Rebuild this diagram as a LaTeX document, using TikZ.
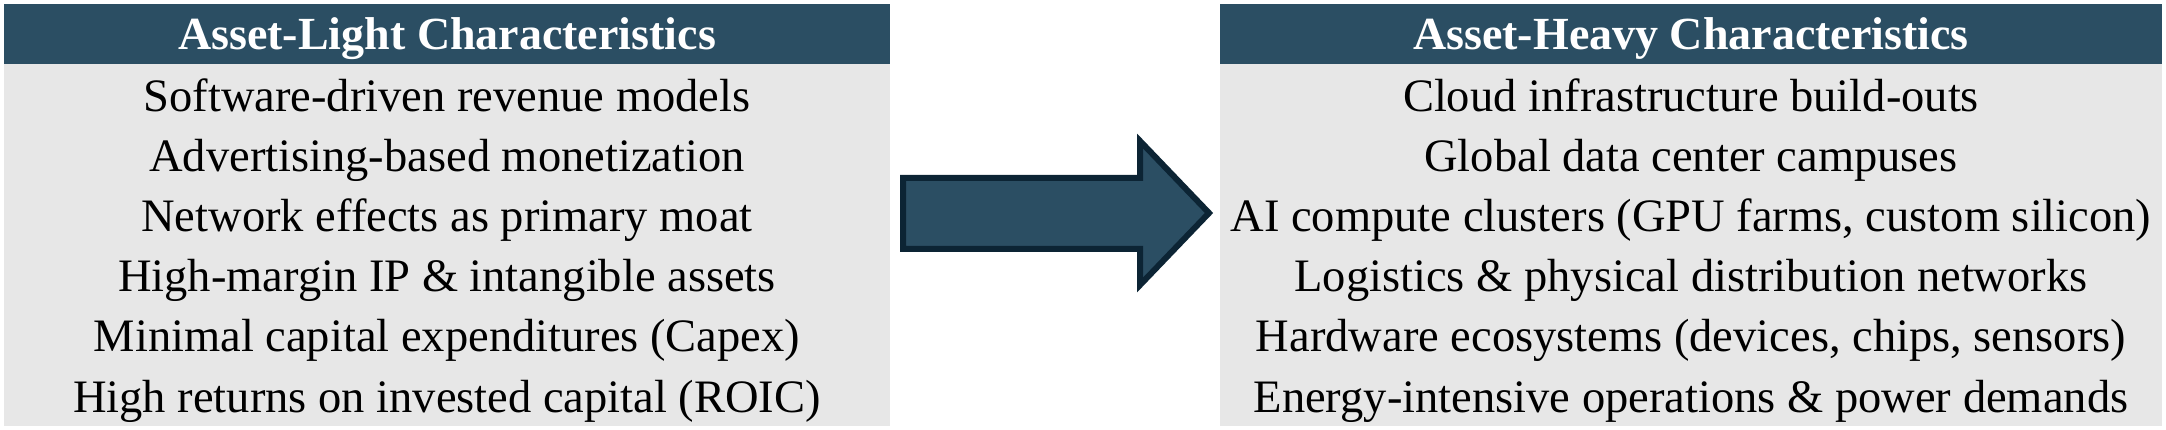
\documentclass[tikz,border=0pt]{standalone}
\usepackage{fontspec}
\setmainfont{Liberation Serif}
\definecolor{hdr}{RGB}{43,78,99}
\definecolor{bodygray}{RGB}{231,231,231}
\definecolor{arrowline}{RGB}{12,36,52}
\tikzset{
  hdrbox/.style={fill=hdr, draw=none},
  bodybox/.style={fill=bodygray, draw=none},
  hdrtext/.style={text=white, font=\fontsize{46}{54}\selectfont\bfseries, anchor=base, inner sep=0pt},
  itemtext/.style={text=black, font=\fontsize{46.5}{55}\selectfont, anchor=base, inner sep=0pt},
  bigarrow/.style={fill=hdr, draw=arrowline, line width=6pt, line join=miter}
}
\begin{document}
\begin{tikzpicture}[x=1pt,y=-1pt]
\useasboundingbox (0,0) rectangle (2166,430);
% left panel
\fill[bodybox] (4,64) rectangle (890,426);
\fill[hdrbox] (4,4) rectangle (890,64);
\node[hdrtext] (lh) at (447,50) {Asset-Light Characteristics};
\node[itemtext] (l1) at (447,112) {Software-driven revenue models};
\node[itemtext] (l2) at (447,172) {Advertising-based monetization};
\node[itemtext] (l3) at (447,232) {Network effects as primary moat};
\node[itemtext] (l4) at (447,292) {High-margin IP \& intangible assets};
\node[itemtext] (l5) at (447,352) {Minimal capital expenditures (Capex)};
\node[itemtext] (l6) at (447,412) {High returns on invested capital (ROIC)};
% right panel
\fill[bodybox] (1220,64) rectangle (2162,426);
\fill[hdrbox] (1220,4) rectangle (2162,64);
\node[hdrtext] (rh) at (1691,50) {Asset-Heavy Characteristics};
\node[itemtext] (r1) at (1691,112) {Cloud infrastructure build-outs};
\node[itemtext] (r2) at (1691,172) {Global data center campuses};
\node[itemtext] (r3) at (1691,232) {AI compute clusters (GPU farms, custom silicon)};
\node[itemtext] (r4) at (1691,292) {Logistics \& physical distribution networks};
\node[itemtext] (r5) at (1691,352) {Hardware ecosystems (devices, chips, sensors)};
\node[itemtext] (r6) at (1691,412) {Energy-intensive operations \& power demands};
% arrow
\draw[bigarrow] (903,178) -- (1140,178) -- (1140,141) -- (1209,213) -- (1140,285) -- (1140,249) -- (903,249) -- cycle;
\end{tikzpicture}
\end{document}
